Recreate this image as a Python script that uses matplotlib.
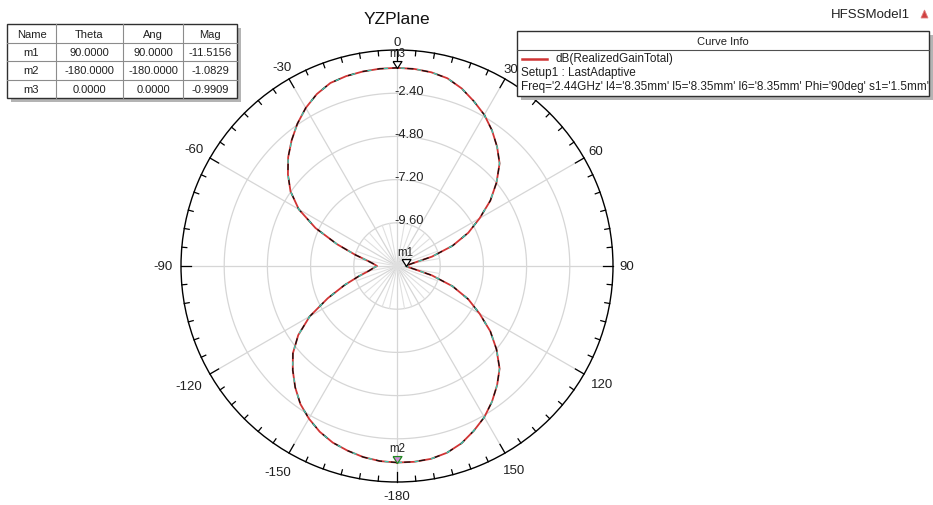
import numpy as np
import matplotlib
matplotlib.use("Agg")
import matplotlib.pyplot as plt
from matplotlib.markers import MarkerStyle
from matplotlib.patches import Rectangle, Polygon
import matplotlib.transforms as mtransforms

plt.rcParams['font.family'] = ['Liberation Sans', 'DejaVu Sans']

# ---------------- data ----------------
theta_deg = [-180, -175, -170, -165, -160, -155, -150, -145, -140, -135, -130,
             -125, -120, -115, -110, -105, -100, -95, -90,
             -85, -80, -75, -70, -65, -60, -55, -50, -45, -40,
             -35, -30, -25, -20, -15, -10, -5, 0,
             5, 10, 15, 20, 25, 30, 35, 40, 45, 50,
             55, 60, 65, 70, 75, 80, 85, 90,
             95, 100, 105, 110, 115, 120, 125, 130, 135, 140,
             145, 150, 155, 160, 165, 170, 175, 180]
gain_db = [-1.08, -1.12, -1.22, -1.38, -1.56, -1.84, -2.21, -2.64, -3.20, -3.81, -4.45,
           -5.30, -6.40, -7.75, -8.90, -9.80, -10.40, -10.68, -10.89,
           -10.70, -10.35, -9.60, -8.45, -7.00, -5.70, -4.78, -4.09, -3.45, -2.89,
           -2.35, -1.86, -1.46, -1.18, -1.08, -1.03, -1.00, -0.99,
           -1.01, -1.07, -1.20, -1.50, -1.90, -2.30, -2.80, -3.35, -3.94, -4.78,
           -5.67, -6.70, -7.63, -8.72, -9.99, -11.10, -11.40, -11.52,
           -11.40, -11.05, -10.00, -8.72, -7.63, -6.70, -5.67, -4.78, -3.94, -3.35,
           -2.80, -2.30, -1.90, -1.52, -1.26, -1.12, -1.08, -1.08]

marker_names = ['m1', 'm2', 'm3']
marker_theta = [90.0, -180.0, 0.0]
marker_mag = [-11.5156, -1.0829, -0.9909]

table_header = ['Name', 'Theta', 'Ang', 'Mag']
table_theta = ['90.0000', '-180.0000', '0.0000']
table_ang = ['90.0000', '-180.0000', '0.0000']
table_mag = ['-11.5156', '-1.0829', '-0.9909']

r_min, r_max = -12.0, 0.0
ring_values = [-9.6, -7.2, -4.8, -2.4]
ring_labels = ['-9.60', '-7.20', '-4.80', '-2.40']
angle_ticks = [0, 30, 60, 90, 120, 150, 180, -150, -120, -90, -60, -30]
angle_labels = ['0', '30', '60', '90', '120', '150', '-180', '-150', '-120', '-90', '-60', '-30']
# label distance outside the circle (px)
angle_label_dist = [8, 12, 14, 14, 21, 19, 14, 22, 25, 18, 18, 14]

curve_label = 'dB(RealizedGainTotal)'
setup_label = 'Setup1 : LastAdaptive'
freq_label = "Freq='2.44GHz' l4='8.35mm' l5='8.35mm' l6='8.35mm' Phi='90deg' s1='1.5mm'"

# ---------------- figure ----------------
W, H = 933, 506
fig = plt.figure(figsize=(W / 100, H / 100), dpi=100)
fig.patch.set_facecolor('white')

cx, cy, R = 397, 267, 216
ax = fig.add_axes([(cx - R) / W, (H - cy - R) / H, 2 * R / W, 2 * R / H], projection='polar')
ax.set_theta_zero_location('N')
ax.set_theta_direction(-1)
ax.set_rlim(r_min, r_max)
ax.grid(False)
ax.set_xticks([])
ax.set_yticks([])
ax.spines['polar'].set_color('black')
ax.spines['polar'].set_linewidth(1.0)

px_per_db = R / (r_max - r_min)

full = np.linspace(0, 2 * np.pi, 721)
for rv in ring_values:
    ax.plot(full, np.full_like(full, rv), color='#d6d6d6', lw=0.9, zorder=1)
for a in range(0, 360, 30):
    t = np.deg2rad(a)
    ax.plot([t, t], [r_min, r_max], color='#d6d6d6', lw=0.9, zorder=1)
for a in range(0, 360, 10):
    if a % 30:
        t = np.deg2rad(a)
        ax.plot([t, t], [r_min, ring_values[0]], color='#e0e0e0', lw=0.8, zorder=1)
# outer ticks (inward)
for a in range(0, 360, 5):
    t = np.deg2rad(a)
    L = (10 if a % 30 == 0 else 5) / px_per_db
    ax.plot([t, t], [r_max - L, r_max], color='black', lw=0.9, zorder=3, clip_on=False)

# angle labels
for a, lab, d in zip(angle_ticks, angle_labels, angle_label_dist):
    ax.text(np.deg2rad(a), r_max + d / px_per_db, lab, ha='center', va='center',
            fontsize=9.5, clip_on=False, color='#202020')

# radial labels
off = mtransforms.offset_copy(ax.transData, fig=fig, x=-3 * 0.72, y=2.3 * 0.72, units='points')
for rv, lab in zip(ring_values, ring_labels):
    ax.text(0, rv, lab, transform=off, ha='left', va='center', fontsize=9.3, color='#202020', zorder=4)

# curve
th = np.deg2rad(theta_deg)
ax.plot(th, gain_db, color='#d03434', lw=1.3, zorder=5)
ax.plot(th, gain_db, color='#101010', lw=0.9, linestyle=(0, (5, 7)), zorder=6)
ax.plot(th, gain_db, color='#3cc8b0', lw=1.0, linestyle=(6, (3, 9)), zorder=7)

# markers
tri = MarkerStyle([(-0.64, 1.0), (0.64, 1.0), (0.0, 0.0), (-0.64, 1.0)])
for name, mt, mm in zip(marker_names, marker_theta, marker_mag):
    fc = '#d08ad8' if name == 'm2' else 'white'
    ec = '#208a20' if name == 'm2' else 'black'
    ax.plot([np.deg2rad(mt)], [mm], linestyle='none', marker=tri, markersize=10,
            markerfacecolor=fc, markeredgecolor=ec, markeredgewidth=0.9, zorder=8, clip_on=False)
    lo = mtransforms.offset_copy(ax.transData, fig=fig, x=0, y=8.5 * 0.72, units='points')
    ax.text(np.deg2rad(mt), mm, name, transform=lo, ha='center', va='bottom', fontsize=8.3,
            color='#202020', zorder=9, clip_on=False)

# ---------------- overlay (title, table, legend) ----------------
ov = fig.add_axes([0, 0, 1, 1], zorder=10)
ov.set_xlim(0, W)
ov.set_ylim(H, 0)
ov.axis('off')
ov.patch.set_alpha(0)

ov.text(cx, 19, 'YZPlane', ha='center', va='center', fontsize=12.5, color='#111111')
ov.text(910, 15, 'HFSSModel1', ha='right', va='center', fontsize=9.5, color='#222222')
ov.add_patch(Polygon([(921, 19), (924.5, 11), (928, 19)], closed=True, facecolor='#d04040',
                     edgecolor='#e08080', lw=0.6))

# table
xs = [7, 56, 123, 183, 237]
ys = [25, 44, 62, 80.5, 99]
ov.add_patch(Rectangle((xs[0] + 4, ys[0] + 4), xs[-1] - xs[0], ys[-1] - ys[0], facecolor='#b4b4b4',
                       edgecolor='none'))
ov.add_patch(Rectangle((xs[0], ys[0]), xs[-1] - xs[0], ys[-1] - ys[0], facecolor='white',
                       edgecolor='#303030', lw=1.0))
for x in xs[1:-1]:
    ov.plot([x, x], [ys[0], ys[-1]], color='#8c8c8c', lw=0.8)
for y in ys[1:-1]:
    ov.plot([xs[0], xs[-1]], [y, y], color='#8c8c8c', lw=0.8)
rows = [table_header] + [[n, t, a, m] for n, t, a, m in zip(marker_names, table_theta, table_ang, table_mag)]
for i, row in enumerate(rows):
    yc = (ys[i] + ys[i + 1]) / 2
    for j, txt in enumerate(row):
        xc = (xs[j] + xs[j + 1]) / 2
        ov.text(xc, yc, txt, ha='center', va='center', fontsize=8, color='#202020')

# legend box
lx0, ly0, lx1, ly1 = 517, 32, 929, 97
ov.add_patch(Rectangle((lx0 + 4, ly0 + 4), lx1 - lx0, ly1 - ly0, facecolor='#b4b4b4', edgecolor='none'))
ov.add_patch(Rectangle((lx0, ly0), lx1 - lx0, ly1 - ly0, facecolor='white', edgecolor='#303030', lw=1.0))
ov.plot([lx0, lx1], [51, 51], color='#505050', lw=0.8)
ov.text((lx0 + lx1) / 2, 41.5, 'Curve Info', ha='center', va='center', fontsize=8, color='#202020')
ov.plot([522, 547], [59.5, 59.5], color='#d03434', lw=1.8)
ov.text(555, 59, curve_label, ha='left', va='center', fontsize=8.45, color='#202020')
ov.text(521, 73, setup_label, ha='left', va='center', fontsize=8.45, color='#202020')
ov.text(521, 86.5, freq_label, ha='left', va='center', fontsize=8.45, color='#202020')

fig.savefig('out.png', dpi=100, facecolor='white')
